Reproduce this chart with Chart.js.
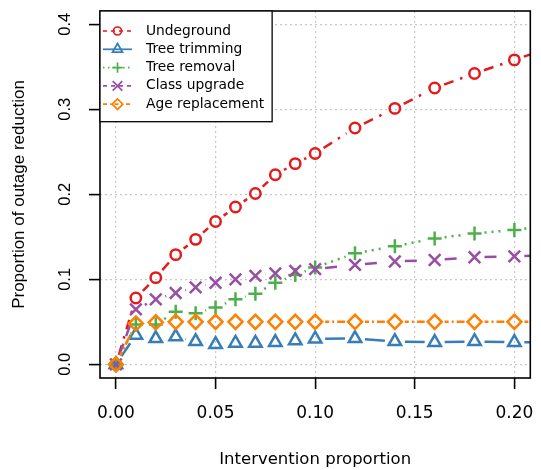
<!DOCTYPE html>
<html><head><meta charset="utf-8">
<script src="https://cdn.jsdelivr.net/npm/chart.js@4/dist/chart.umd.min.js"></script>
<style>html,body{margin:0;padding:0;background:#fff}</style>
</head><body>
<canvas id="c" width="541" height="470"></canvas>
<script>
// ---- data ----
const xValues        = [0, 0.01, 0.02, 0.03, 0.04, 0.05, 0.06, 0.07, 0.08, 0.09, 0.10, 0.12, 0.14, 0.16, 0.18, 0.20, 0.22];
const undeground     = [0, 0.078, 0.102, 0.129, 0.147, 0.168, 0.185, 0.201, 0.223, 0.236, 0.248, 0.278, 0.301, 0.325, 0.342, 0.358, 0.374];
const treeTrimming   = [0, 0.0345, 0.0305, 0.0325, 0.027, 0.0235, 0.025, 0.025, 0.026, 0.028, 0.030, 0.0305, 0.027, 0.026, 0.027, 0.026, 0.026];
const treeRemoval    = [0, 0.047, 0.047, 0.062, 0.060, 0.067, 0.0765, 0.083, 0.096, 0.105, 0.114, 0.1306, 0.139, 0.148, 0.154, 0.158, 0.164];
const classUpgrade   = [0, 0.0647, 0.0765, 0.084, 0.0906, 0.096, 0.100, 0.104, 0.107, 0.110, 0.112, 0.117, 0.121, 0.1227, 0.126, 0.127, 0.129];
const ageReplacement = [0, 0.048, 0.0495, 0.050, 0.050, 0.050, 0.050, 0.050, 0.050, 0.050, 0.050, 0.050, 0.050, 0.050, 0.050, 0.050, 0.050];
const seriesNames    = ['Undeground', 'Tree trimming', 'Tree removal', 'Class upgrade', 'Age replacement'];
const xTicks      = [0, 0.05, 0.10, 0.15, 0.20];
const xTickLabels = ['0.00', '0.05', '0.10', '0.15', '0.20'];
const yTicks      = [0, 0.1, 0.2, 0.3, 0.4];
const yTickLabels = ['0.0', '0.1', '0.2', '0.3', '0.4'];
const xTitle = 'Intervention proportion';
const yTitle = 'Proportion of outage reduction';

// ---- styles ----
const styles = [
  {color:'#E41A1C', point:'circle',   r:5.2, dash:[10,7,2.5,7],     legendDash:[4,4],       lr:4},
  {color:'#377EB8', point:'triangle', r:7.2, dash:[],               legendDash:[],          lr:5.8},
  {color:'#4DAF4A', point:'cross',    r:7,   dash:[2,5],            legendDash:[1.5,3.5],   lr:5.2},
  {color:'#984EA3', point:'crossRot', r:8.2, dash:[12,8],           legendDash:[4,4],       lr:6.8},
  {color:'#FF7F00', point:'rectRot',  r:7,   dash:[4,3,2,3,9,3],    legendDash:[4,3,1.5,3], lr:5.3}
];
const GAP = 10;

function segDash(p0, p1, g, P) {
  const L = Math.hypot(p1.x - p0.x, p1.y - p0.y);
  let rem = L - 2 * g;
  if (rem <= 0) return [0, 100000];
  const arr = [0, g];
  if (!P.length) { arr.push(rem, 100000); return arr; }
  let i = 0;
  while (rem > 0.01) {
    const v = Math.min(P[i % P.length], rem);
    arr.push(v); rem -= v; i++;
  }
  if (arr.length % 2 === 1) arr.push(100000); else arr[arr.length - 1] += 100000;
  return arr;
}

const allSeries = [undeground, treeTrimming, treeRemoval, classUpgrade, ageReplacement];
const datasets = allSeries.map((vals, i) => {
  const st = styles[i];
  return {
    label: seriesNames[i],
    data: xValues.map((x, k) => ({x: x, y: vals[k]})),
    borderColor: st.color,
    borderWidth: 2.5,
    pointStyle: st.point,
    pointRadius: st.r,
    pointBorderWidth: 2.5,
    pointBorderColor: st.color,
    pointBackgroundColor: 'rgba(0,0,0,0)',
    pointHoverRadius: st.r,
    showLine: true,
    fill: false,
    order: 4 - i,
    clip: 0,
    segment: {
      borderDash: c => segDash(c.p0, c.p1, GAP, st.dash),
      // unique (negligible) offset per segment so each segment is stroked on its own
      borderDashOffset: c => c.p0DataIndex * 1e-4
    }
  };
});

const decor = {
  id: 'decor',
  afterDraw(chart) {
    const ctx = chart.ctx, a = chart.chartArea, ys = chart.scales.y;
    ctx.save();
    ctx.strokeStyle = '#000'; ctx.lineWidth = 1.6; ctx.setLineDash([]);
    ctx.strokeRect(a.left, a.top, a.right - a.left, a.bottom - a.top);
    ctx.fillStyle = '#000';
    ctx.font = '16.5px "Liberation Sans", Arial, sans-serif';
    ctx.textAlign = 'center'; ctx.textBaseline = 'middle';
    yTicks.forEach((v, i) => {
      const py = ys.getPixelForValue(v);
      ctx.save(); ctx.translate(65, py); ctx.rotate(-Math.PI / 2);
      ctx.fillText(yTickLabels[i], 0, 0); ctx.restore();
    });
    const lx = a.left, ly = a.top, step = 18.3, first = 20;
    ctx.font = '13.8px "DejaVu Sans", sans-serif';
    let maxW = 0;
    chart.data.datasets.forEach(d => { maxW = Math.max(maxW, ctx.measureText(d.label).width); });
    const textX = lx + 46;
    const w = textX + maxW + 8 - lx;
    const h = first + step * (chart.data.datasets.length - 1) + 17.5;
    ctx.fillStyle = '#fff'; ctx.fillRect(lx, ly, w, h);
    ctx.strokeStyle = '#000'; ctx.lineWidth = 1.3; ctx.strokeRect(lx, ly, w, h);
    chart.data.datasets.forEach((d, i) => {
      const st = styles[i];
      const yy = ly + first + i * step;
      ctx.strokeStyle = st.color; ctx.lineWidth = 1.7;
      ctx.setLineDash(st.legendDash);
      ctx.beginPath(); ctx.moveTo(lx + 3, yy); ctx.lineTo(lx + 32, yy); ctx.stroke();
      ctx.setLineDash([]);
      ctx.lineWidth = 1.7; ctx.fillStyle = 'rgba(0,0,0,0)';
      Chart.helpers.drawPoint(ctx, {pointStyle: st.point, radius: st.lr, borderWidth: 1.7, rotation: 0}, lx + 17.5, yy);
      ctx.fillStyle = '#000';
      ctx.textAlign = 'left'; ctx.textBaseline = 'middle';
      ctx.fillText(d.label, textX, yy);
    });
    ctx.restore();
  }
};

const gridCommon = {
  color: '#c8c8c8', lineWidth: 1.2, drawTicks: true, tickLength: 11,
  tickColor: '#000', tickWidth: 1.6, tickBorderDash: []
};

new Chart(document.getElementById('c'), {
  type: 'scatter',
  data: {datasets: datasets},
  options: {
    responsive: false, devicePixelRatio: 1, animation: false,
    layout: {padding: {top: 11, right: 4, left: 0, bottom: 0}},
    plugins: {legend: {display: false}, tooltip: {enabled: false}},
    scales: {
      x: {
        type: 'linear', min: -0.008, max: 0.208,
        afterBuildTicks: s => { s.ticks = xTicks.map(v => ({value: v})); },
        afterFit: s => { s.height = 92; s.paddingLeft = 0; s.paddingRight = 0; s.paddingTop = 0; s.paddingBottom = 0; },
        ticks: {
          callback: (v, i) => xTickLabels[i], maxRotation: 0, autoSkip: false,
          padding: 14, color: '#000', font: {family: '"DejaVu Sans", sans-serif', size: 17}
        },
        grid: gridCommon,
        border: {display: false, dash: [2, 3]},
        title: {display: true, text: xTitle, color: '#000',
          font: {family: '"DejaVu Sans", sans-serif', size: 16.5}, padding: {top: 0, bottom: 0}}
      },
      y: {
        type: 'linear', min: -0.016, max: 0.4155,
        afterBuildTicks: s => { s.ticks = yTicks.map(v => ({value: v})); },
        afterFit: s => { s.width = 100; s.paddingTop = 0; s.paddingBottom = 0; s.paddingLeft = 0; s.paddingRight = 0; },
        ticks: {display: false},
        grid: gridCommon,
        border: {display: false, dash: [2, 3]},
        title: {display: true, text: yTitle, color: '#000',
          font: {family: '"Liberation Sans", Arial, sans-serif', size: 17}, padding: {top: 9, bottom: 0}}
      }
    }
  },
  plugins: [decor]
});
</script>
</body></html>
